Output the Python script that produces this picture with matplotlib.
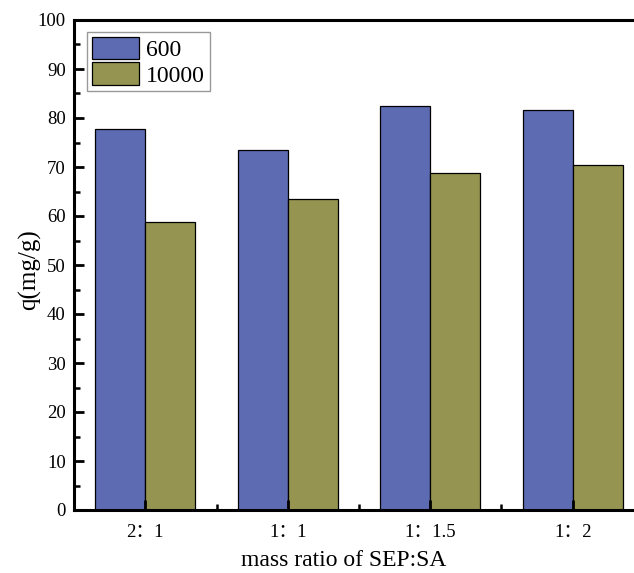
import numpy as np
import matplotlib.pyplot as plt
from matplotlib.ticker import MultipleLocator

# 吸附量数据
ratios = ['2：1', '1：1', '1：1.5', '1：2']
q_600 = [77.8, 73.5, 82.4, 81.6]
q_10000 = [58.8, 63.5, 68.8, 70.4]
series_names = ['600', '10000']

plt.rcParams['font.family'] = ['Liberation Serif', 'Noto Sans CJK SC']
plt.rcParams['axes.unicode_minus'] = False

fig = plt.figure(figsize=(6.34, 5.73), dpi=100)
# 右端超出画布, 右侧边框不显示
ax = fig.add_axes([74 / 634, 1 - 510 / 573, 570 / 634, 490 / 573])

x = np.arange(len(ratios))
w = 0.35
ax.bar(x - w / 2, q_600, w, color='#5d6bb2', edgecolor='black', linewidth=0.9,
       label=series_names[0])
ax.bar(x + w / 2, q_10000, w, color='#959450', edgecolor='black', linewidth=0.9,
       label=series_names[1])

ax.set_xlim(-0.5, 3.5)
ax.set_ylim(0, 100)
ax.set_xticks(x)
ax.set_xticklabels(ratios)
ax.set_xticks(x + 0.5, minor=True)
ax.yaxis.set_major_locator(MultipleLocator(10))
ax.yaxis.set_minor_locator(MultipleLocator(5))

ax.tick_params(which='major', direction='in', length=7, width=2, labelsize=13.5)
ax.tick_params(which='minor', direction='in', length=4, width=1.8)
ax.tick_params(axis='x', which='major', pad=10)
ax.tick_params(axis='y', which='major', pad=6)

for s in ['left', 'bottom', 'top']:
    ax.spines[s].set_linewidth(2.2)
ax.spines['right'].set_visible(False)

ax.set_xlabel('mass ratio of SEP:SA', fontsize=17)
ax.set_ylabel('q(mg/g)', fontsize=18)
ax.xaxis.set_label_coords(0.474, -0.082)
ax.yaxis.set_label_coords(-0.058, 0.49)

leg = ax.legend(loc='upper left', bbox_to_anchor=(0.015, 0.985), fontsize=17,
                frameon=True, fancybox=False, handlelength=2.0, handleheight=1.1,
                handletextpad=0.3, borderpad=0.2, labelspacing=0.05,
                borderaxespad=0.2)
leg.get_frame().set_edgecolor('#808080')
leg.get_frame().set_linewidth(1.0)

fig.savefig('out.png', dpi=100)
